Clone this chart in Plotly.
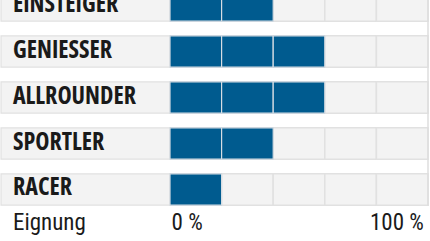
import json
import plotly.graph_objects as go

categories = ["EINSTEIGER", "GENIESSER", "ALLROUNDER", "SPORTLER", "RACER"]
ratings = [2, 3, 3, 2, 1]          # filled segments out of 5
max_segments = 5
axis_texts = ["Eignung", "0 %", "100 %"]

W, H = 430, 241
UNIT = 51.6
X0 = -170 / UNIT
X1 = (W - 170) / UNIT
BLUE = "#005b8f"
GREY = "#f3f3f3"
BORDER = "#e1e1e1"
FONT = "Open Sans, Roboto, DejaVu Sans Condensed, sans-serif"
FONT2 = "Roboto, Open Sans, sans-serif"

ys = list(range(len(categories)))
fig = go.Figure()

# label cell background
fig.add_trace(go.Bar(
    y=ys, x=[-X0 - 0.02] * len(ys), base=[X0 + 0.02] * len(ys), orientation="h",
    width=0.68, marker=dict(color=GREY, line=dict(color=BORDER, width=1.2)),
    hoverinfo="skip"))

# empty segment cells
for k in range(max_segments):
    fig.add_trace(go.Bar(
        y=ys, x=[1] * len(ys), base=[k] * len(ys), orientation="h",
        width=0.68, marker=dict(color=GREY, line=dict(color=BORDER, width=1.5)),
        hoverinfo="skip"))

# filled segments
for k in range(max_segments):
    yy = [y for y, r in zip(ys, ratings) if r > k]
    if not yy:
        continue
    fig.add_trace(go.Bar(
        y=yy, x=[1] * len(yy), base=[k] * len(yy), orientation="h",
        width=0.68, marker=dict(color=BLUE, line=dict(color="#d6dde3", width=1.2)),
        hoverinfo="skip"))

# category labels
fig.add_trace(go.Scatter(
    y=ys, x=[X0 + 13 / UNIT] * len(ys), mode="text", text=categories,
    textposition="middle right",
    textfont=dict(family=FONT, size=24, weight="bold", color="#1a1a1a"),
    hoverinfo="skip"))

# axis caption and scale ends
fig.add_trace(go.Scatter(
    y=[4.75] * 3, x=[X0 + 13 / UNIT, 0.03, max_segments - 0.08], mode="text",
    text=axis_texts, textposition=["middle right", "middle right", "middle left"],
    textfont=dict(family=FONT2, size=23, weight="normal", color="#1a1a1a"),
    hoverinfo="skip"))

# right table border
fig.add_shape(type="line", xref="x", yref="y", x0=max_segments, x1=max_segments,
              y0=-0.5, y1=4.36, line=dict(color="#dedede", width=1.5), layer="above")

fig.update_layout(
    width=W, height=H, margin=dict(l=0, r=0, t=0, b=0),
    barmode="overlay", showlegend=False,
    plot_bgcolor="white", paper_bgcolor="white",
    xaxis=dict(range=[X0, X1], visible=False, fixedrange=True),
    yaxis=dict(range=[5.12, -0.12], visible=False, fixedrange=True),
)

ps = ("var cats=" + json.dumps(categories) + ";"
      "document.querySelectorAll('.textpoint text').forEach(function(t){"
      "t.style.fontStretch=(cats.indexOf(t.textContent)>=0)?'75%':'87.5%';});")
fig.write_html("out.html", post_script=ps)
